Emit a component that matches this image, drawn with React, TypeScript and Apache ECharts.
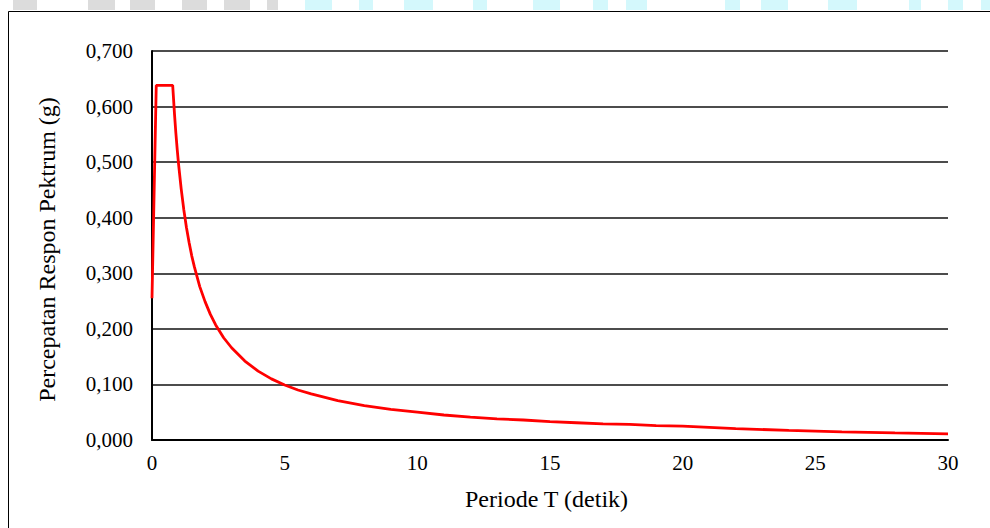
import React, { useEffect, useRef } from "react";
import * as echarts from "echarts";

// Period T (detik) and spectral acceleration Sa (g)
const periods: number[] = [
  0, 0.16, 0.78, 0.85, 0.9, 0.95, 1.0, 1.1, 1.2, 1.3, 1.4, 1.5, 1.6, 1.8, 2.0, 2.2, 2.4, 2.7,
  3.0, 3.5, 4.0, 4.5, 5.0, 5.5, 6, 7, 8, 9, 10, 11, 12, 13, 14, 15, 16, 17, 18, 19, 20, 22, 24,
  26, 28, 30,
];
const accel: number[] = [
  0.255, 0.638, 0.638, 0.585, 0.552, 0.523, 0.497, 0.452, 0.414, 0.382, 0.355, 0.331, 0.311,
  0.276, 0.249, 0.226, 0.207, 0.184, 0.166, 0.142, 0.124, 0.11, 0.099, 0.09, 0.083, 0.071, 0.062,
  0.055, 0.05, 0.045, 0.041, 0.038, 0.036, 0.033, 0.031, 0.029, 0.028, 0.026, 0.025, 0.0205,
  0.0173, 0.0147, 0.0127, 0.011,
];

const xTicks: number[] = [0, 5, 10, 15, 20, 25, 30];
const yTicks: number[] = [0, 0.1, 0.2, 0.3, 0.4, 0.5, 0.6, 0.7];

const xTitle = "Periode T (detik)";
const yTitle = "Percepatan Respon Pektrum (g)";

// watermark strip at the top of the scan
const grayBlocks: [number, number][] = [
  [13, 37], [88, 115], [130, 155], [182, 207], [224, 250], [267, 278],
];
const cyanBlocks: [number, number][] = [
  [305, 332], [359, 373], [404, 433], [473, 487], [533, 560], [593, 608], [626, 647],
  [725, 740], [761, 788], [828, 857], [909, 921], [948, 963], [981, 990],
];

const FONT = "'Liberation Serif', 'Times New Roman', serif";

export default function App() {
  const ref = useRef<HTMLDivElement>(null);
  useEffect(() => {
    if (!ref.current) return;
    const chart = echarts.init(ref.current, undefined, { renderer: "svg" });
    const data = periods.map((t, i) => [t, accel[i]]);
    const blocks: any[] = [
      ...grayBlocks.map(([a, b]) => ({
        type: "rect",
        shape: { x: a, y: 0, width: b - a, height: 10 },
        style: { fill: "#dcdcdc" },
        silent: true,
      })),
      ...cyanBlocks.map(([a, b]) => ({
        type: "rect",
        shape: { x: a, y: 0, width: b - a, height: 10 },
        style: { fill: "#d4f8fc" },
        silent: true,
      })),
    ];
    chart.setOption({
      animation: false,
      backgroundColor: "#ffffff",
      textStyle: { fontFamily: FONT, color: "#000" },
      grid: { left: 152, right: 42, top: 51, bottom: 88, containLabel: false },
      graphic: [
        {
          type: "rect",
          shape: { x: 8.5, y: 11.5, width: 1100, height: 700 },
          style: { fill: "none", stroke: "#000", lineWidth: 1 },
          silent: true,
          z: -1,
        },
        ...blocks,
      ],
      xAxis: {
        type: "value",
        min: 0,
        max: 30,
        interval: 5,
        name: xTitle,
        nameLocation: "middle",
        nameGap: 47,
        nameTextStyle: { fontFamily: FONT, fontSize: 24, color: "#000", padding: [0, 7, 0, 0] },
        axisLine: { show: true, lineStyle: { color: "#000", width: 2 } },
        axisTick: { show: false },
        splitLine: { show: false },
        axisLabel: {
          fontFamily: FONT,
          fontSize: 21,
          color: "#000",
          margin: 12,
          formatter: (v: number) => (xTicks.includes(v) ? String(v) : ""),
        },
      },
      yAxis: {
        type: "value",
        min: 0,
        max: 0.7,
        interval: 0.1,
        name: yTitle,
        nameLocation: "middle",
        nameGap: 93,
        nameRotate: 90,
        nameTextStyle: { fontFamily: FONT, fontSize: 24, color: "#000", padding: [0, 8, 0, 0] },
        axisLine: { show: true, lineStyle: { color: "#000", width: 2 } },
        axisTick: { show: false },
        splitLine: { show: true, lineStyle: { color: "#111", width: 1.6 } },
        axisLabel: {
          fontFamily: FONT,
          fontSize: 21,
          color: "#000",
          margin: 19,
          formatter: (v: number) => {
            const t = yTicks.find((y) => Math.abs(y - v) < 1e-9);
            return t === undefined ? "" : t.toFixed(3).replace(".", ",");
          },
        },
      },
      series: [
        {
          type: "line",
          data,
          showSymbol: false,
          symbol: "none",
          smooth: false,
          lineStyle: { color: "#ff0000", width: 2.8 },
          z: 5,
        },
      ],
    });
    return () => chart.dispose();
  }, []);
  return (
    <div
      ref={ref}
      style={{ position: "fixed", left: 0, top: 0, width: 990, height: 528, background: "#fff" }}
    />
  );
}
